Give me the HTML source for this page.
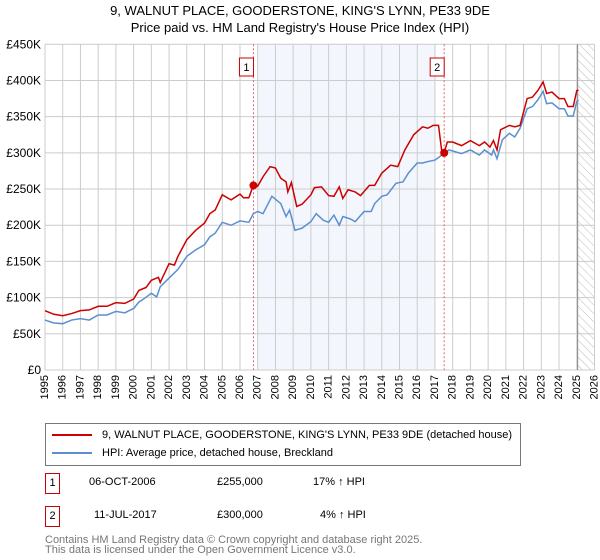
<!DOCTYPE html>
<html><head><meta charset="utf-8"><style>
body{margin:0;background:#fff;font-family:"Liberation Sans","DejaVu Sans",sans-serif;}
#wrap{position:relative;width:600px;height:560px;overflow:hidden;}
.t{position:absolute;white-space:nowrap;}
</style></head><body><div id="wrap">
<div class="t" style="left:0;width:600px;text-align:center;top:2px;font-size:13px;line-height:17px;color:#000;">9, WALNUT PLACE, GOODERSTONE, KING'S LYNN, PE33 9DE<br>Price paid vs. HM Land Registry's House Price Index (HPI)</div>
<svg id="chart" width="600" height="410" style="position:absolute;left:0;top:0" font-family="Liberation Sans, DejaVu Sans, sans-serif"></svg>
<div style="position:absolute;left:45px;top:423px;width:476px;height:43px;border:1px solid #777;box-sizing:border-box;font-size:11px;">
<div style="position:absolute;left:6px;top:5px;"><span style="display:inline-block;width:40px;height:2px;background:#cc0000;vertical-align:middle;margin-right:10px"></span>9, WALNUT PLACE, GOODERSTONE, KING'S LYNN, PE33 9DE (detached house)</div>
<div style="position:absolute;left:6px;top:23px;"><span style="display:inline-block;width:40px;height:2px;background:#5b8fd0;vertical-align:middle;margin-right:10px"></span>HPI: Average price, detached house, Breckland</div>
</div>
<div style="position:absolute;left:45px;top:473px;font-size:11px;">
<span style="position:absolute;left:0;top:0;width:13px;height:19px;border:1px solid #cc0000;text-align:center;line-height:19px">1</span>
<span class="t" style="left:44px;top:3px">06-OCT-2006</span><span class="t" style="left:172px;top:3px">£255,000</span><span class="t" style="left:268px;top:3px">17% ↑ HPI</span></div>
<div style="position:absolute;left:45px;top:506px;font-size:11px;">
<span style="position:absolute;left:0;top:0;width:13px;height:19px;border:1px solid #cc0000;text-align:center;line-height:19px">2</span>
<span class="t" style="left:49px;top:3px">11-JUL-2017</span><span class="t" style="left:172px;top:3px">£300,000</span><span class="t" style="left:275px;top:3px">4% ↑ HPI</span></div>
<div class="t" style="left:45px;top:535px;font-size:11px;line-height:10px;color:#777">Contains HM Land Registry data © Crown copyright and database right 2025.<br>This data is licensed under the Open Government Licence v3.0.</div>
</div>
<script>
const yTicks=[0,50000,100000,150000,200000,250000,300000,350000,400000,450000];
const yTickLabels=["£0","£50K","£100K","£150K","£200K","£250K","£300K","£350K","£400K","£450K"];
const years=[1995,1996,1997,1998,1999,2000,2001,2002,2003,2004,2005,2006,2007,2008,2009,2010,2011,2012,2013,2014,2015,2016,2017,2018,2019,2020,2021,2022,2023,2024,2025,2026];
const hpiT=[1995,1995.5,1996,1996.5,1997,1997.5,1998,1998.5,1999,1999.5,2000,2000.3,2000.5,2001,2001.3,2001.5,2002,2002.5,2003,2003.5,2004,2004.3,2004.6,2005,2005.5,2006,2006.5,2006.75,2007,2007.3,2007.8,2008.3,2008.6,2008.8,2009.1,2009.5,2010,2010.3,2010.7,2011,2011.3,2011.6,2011.8,2012.2,2012.5,2013,2013.4,2013.6,2014,2014.3,2014.8,2015.2,2015.5,2016,2016.3,2016.6,2017,2017.5,2017.8,2018.5,2019,2019.5,2019.8,2020.2,2020.3,2020.5,2020.8,2021.2,2021.5,2021.8,2022.2,2022.5,2022.8,2023.1,2023.3,2023.6,2024,2024.3,2024.5,2024.8,2025,2025.1];
const hpiV=[69,65,64,69,71,69,76,76,81,79,85,94,97,106,101,115,127,139,157,166,173,184,189,204,200,206,204,216,219,216,240,230,212,221,193,196,205,216,207,204,214,200,212,209,205,219,219,230,240,242,258,260,272,286,286,288,290,299,304,299,304,297,304,297,304,292,318,327,322,334,361,364,373,385,368,369,361,361,351,351,371,373];
const redT=[1995,1995.5,1996,1996.5,1997,1997.5,1998,1998.5,1999,1999.5,2000,2000.3,2000.7,2001,2001.4,2001.5,2002,2002.3,2002.5,2003,2003.5,2004,2004.3,2004.6,2005,2005.5,2006,2006.2,2006.5,2006.75,2007,2007.3,2007.7,2008,2008.3,2008.6,2008.7,2008.9,2009.2,2009.5,2010,2010.2,2010.6,2011,2011.3,2011.6,2011.8,2012.1,2012.5,2012.8,2013.3,2013.6,2014,2014.5,2014.9,2015.3,2015.8,2016.3,2016.6,2016.9,2017.2,2017.4,2017.5,2017.7,2018,2018.5,2019,2019.5,2019.8,2020.1,2020.3,2020.5,2020.7,2021.2,2021.5,2021.8,2022.2,2022.5,2022.8,2023.1,2023.3,2023.6,2024,2024.3,2024.5,2024.8,2025,2025.1];
const redV=[82,77,75,78,82,83,88,88,93,92,98,110,114,124,128,121,147,145,157,180,193,203,216,221,242,235,243,238,238,255,254,267,281,279,265,260,246,259,226,229,242,252,253,241,240,253,237,249,246,241,255,255,272,283,281,304,325,336,334,338,338,299,299,315,315,310,317,310,315,308,317,304,332,338,336,338,375,377,386,398,382,384,375,375,364,364,386,387];
const saleT=[2006.76,2017.52];
const saleV=[255000,300000];
const saleLabels=["1","2"];
const NS="http://www.w3.org/2000/svg";
const svg=document.getElementById('chart');
const X0=45,X1=594.5,Y0=370,Y1=44.3;
const xs=t=>X0+(t-1995)/(2026-1995)*(X1-X0);
const ys=v=>Y0-v/450000*(Y0-Y1);
function mk(tag,a,parent){const e=document.createElementNS(NS,tag);for(const k in a)e.setAttribute(k,a[k]);(parent||svg).appendChild(e);return e;}
let e;
e=mk('rect',{x:xs(2007),y:Y1,width:xs(2017)-xs(2007),height:Y0-Y1,fill:'#eef3fc',opacity:0.7});


const defs=mk('defs',{});
const pat=mk('pattern',{id:'hatch',width:6,height:6,patternUnits:'userSpaceOnUse',patternTransform:'rotate(-45)'},defs);
mk('line',{x1:0,y1:0,x2:0,y2:6,stroke:'#bbb','stroke-width':1},pat);
e=mk('rect',{x:xs(2025.05),y:Y1,width:X1-xs(2025.05),height:Y0-Y1,fill:'url(#hatch)'});


years.forEach(y=>{
 e=mk('line',{x1:xs(y),x2:xs(y),y1:Y1,y2:Y0,stroke:'#ccc','stroke-width':1});
 
 
 const tx=xs(y),ty=Y0+5;
 e=mk('text',{x:tx,y:ty,transform:`rotate(-90 ${tx} ${ty})`,'text-anchor':'end','dominant-baseline':'central','font-size':11,fill:'#000'});
 e.textContent=y;
 
 
});
yTicks.forEach((v,i)=>{
 e=mk('line',{x1:X0,x2:X1,y1:ys(v),y2:ys(v),stroke:'#ccc','stroke-width':1});
 
 
 e=mk('text',{x:X0-4,y:ys(v)+4,'text-anchor':'end','font-size':12,fill:'#000'});
 e.textContent=yTickLabels[i];
 
 
});
e=mk('line',{x1:xs(2025.05),x2:xs(2025.05),y1:Y1,y2:Y0,stroke:'#888','stroke-width':1});


saleT.forEach((t,i)=>{
 e=mk('line',{x1:xs(t),x2:xs(t),y1:Y1,y2:Y0,stroke:'#e06070','stroke-width':1,'stroke-dasharray':'2,2'});
 
 
 e=mk('rect',{x:xs(t)-14,y:58,width:14,height:18,fill:'#fff',stroke:'#cc0000','stroke-width':1});
 
 
 e=mk('text',{x:xs(t)-7,y:71,'text-anchor':'middle','font-size':11,fill:'#000'});
 e.textContent=saleLabels[i];
 
 
});
e=mk('polyline',{points:hpiT.map((t,i)=>xs(t)+','+ys(hpiV[i]*1000)).join(' '),fill:'none',stroke:'#5b8fd0','stroke-width':1.5});


e=mk('polyline',{points:redT.map((t,i)=>xs(t)+','+ys(redV[i]*1000)).join(' '),fill:'none',stroke:'#cc0000','stroke-width':1.5});


saleT.forEach((t,i)=>{
 e=mk('circle',{cx:xs(t),cy:ys(saleV[i]),r:4,fill:'#cc0000'});
 
 
});
</script></body></html>
